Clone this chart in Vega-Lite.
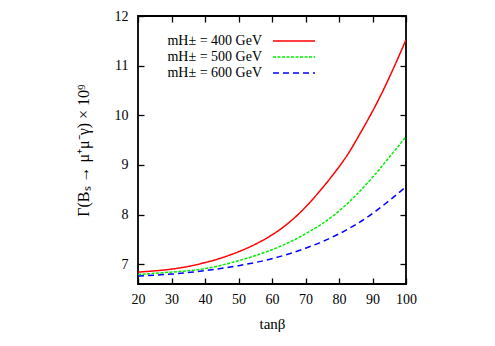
{
  "$schema": "https://vega.github.io/schema/vega-lite/v6.json",
  "width": 268,
  "height": 268,
  "autosize": "none",
  "padding": {"left": 138, "top": 16, "right": 89, "bottom": 62},
  "background": "white",
  "config": {
    "view": {"stroke": "black", "strokeWidth": 1.8},
    "font": "Liberation Serif",
    "axis": {"domain": false, "grid": false, "tickColor": "black", "tickWidth": 1.3, "labelColor": "black", "titleColor": "black", "labelFont": "Liberation Serif", "titleFont": "Liberation Serif", "labelFontSize": 14, "titleFontSize": 14, "titleFontWeight": "normal", "labelFlush": false}
  },
  "data": {"values": [
    {"m": "mH± = 400 GeV", "tanb": 20, "g": 6.84},
    {"m": "mH± = 400 GeV", "tanb": 30, "g": 6.90},
    {"m": "mH± = 400 GeV", "tanb": 40, "g": 7.03},
    {"m": "mH± = 400 GeV", "tanb": 50, "g": 7.25},
    {"m": "mH± = 400 GeV", "tanb": 60, "g": 7.59},
    {"m": "mH± = 400 GeV", "tanb": 70, "g": 8.15},
    {"m": "mH± = 400 GeV", "tanb": 80, "g": 8.96},
    {"m": "mH± = 400 GeV", "tanb": 85, "g": 9.48},
    {"m": "mH± = 400 GeV", "tanb": 90, "g": 10.08},
    {"m": "mH± = 400 GeV", "tanb": 95, "g": 10.76},
    {"m": "mH± = 400 GeV", "tanb": 100, "g": 11.52},
    {"m": "mH± = 500 GeV", "tanb": 20, "g": 6.79},
    {"m": "mH± = 500 GeV", "tanb": 30, "g": 6.84},
    {"m": "mH± = 500 GeV", "tanb": 40, "g": 6.91},
    {"m": "mH± = 500 GeV", "tanb": 50, "g": 7.07},
    {"m": "mH± = 500 GeV", "tanb": 60, "g": 7.29},
    {"m": "mH± = 500 GeV", "tanb": 70, "g": 7.61},
    {"m": "mH± = 500 GeV", "tanb": 80, "g": 8.07},
    {"m": "mH± = 500 GeV", "tanb": 90, "g": 8.75},
    {"m": "mH± = 500 GeV", "tanb": 100, "g": 9.57},
    {"m": "mH± = 600 GeV", "tanb": 20, "g": 6.76},
    {"m": "mH± = 600 GeV", "tanb": 30, "g": 6.80},
    {"m": "mH± = 600 GeV", "tanb": 40, "g": 6.87},
    {"m": "mH± = 600 GeV", "tanb": 50, "g": 6.97},
    {"m": "mH± = 600 GeV", "tanb": 60, "g": 7.11},
    {"m": "mH± = 600 GeV", "tanb": 70, "g": 7.32},
    {"m": "mH± = 600 GeV", "tanb": 80, "g": 7.61},
    {"m": "mH± = 600 GeV", "tanb": 90, "g": 8.02},
    {"m": "mH± = 600 GeV", "tanb": 100, "g": 8.56}
  ]},
  "layer": [
    {
      "mark": {"type": "line", "strokeWidth": 1.5, "interpolate": "natural", "clip": true},
      "encoding": {
        "x": {"field": "tanb", "type": "quantitative", "scale": {"domain": [20, 100], "nice": false, "zero": false},
              "axis": {"orient": "bottom", "title": "tanβ", "titleFontSize": 15, "values": [20, 30, 40, 50, 60, 70, 80, 90, 100], "tickSize": -6, "labelPadding": 14, "titlePadding": 10}},
        "y": {"field": "g", "type": "quantitative", "scale": {"domain": [6.6, 12], "nice": false, "zero": false},
              "axis": {"orient": "left", "title": "Γ(Bₛ → μ⁺μ⁻γ) × 10⁹", "titleFontSize": 16, "values": [7, 8, 9, 10, 11, 12], "tickSize": -6, "labelPadding": 16, "titlePadding": 23}},
        "color": {"field": "m", "type": "nominal",
                  "scale": {"domain": ["mH± = 400 GeV", "mH± = 500 GeV", "mH± = 600 GeV"], "range": ["#ff0000", "#00ee00", "#0000ff"]},
                  "legend": {"orient": "none", "legendX": 148, "legendY": 17, "title": null, "symbolType": "M-3,0H3", "symbolSize": 196, "symbolStrokeWidth": 1.5, "symbolFillColor": "transparent", "labelAlign": "right", "labelOffset": -40, "labelFontSize": 14, "labelFont": "Liberation Serif", "labelColor": "black", "padding": 0, "rowPadding": 1, "labelLimit": 300}},
        "strokeDash": {"field": "m", "type": "nominal",
                  "scale": {"domain": ["mH± = 400 GeV", "mH± = 500 GeV", "mH± = 600 GeV"], "range": [[1, 0], [3, 1.5], [6, 4]]},
                  "legend": {"orient": "none", "legendX": 148, "legendY": 17, "title": null, "symbolType": "M-3,0H3", "symbolSize": 196, "symbolStrokeWidth": 1.5, "symbolFillColor": "transparent", "labelAlign": "right", "labelOffset": -40, "labelFontSize": 14, "labelFont": "Liberation Serif", "labelColor": "black", "padding": 0, "rowPadding": 1, "labelLimit": 300}}
      }
    },
    {
      "mark": {"type": "line", "opacity": 0},
      "encoding": {
        "x": {"field": "tanb", "type": "quantitative", "axis": {"orient": "top", "title": null, "labels": false, "values": [20, 30, 40, 50, 60, 70, 80, 90, 100], "tickSize": -6}},
        "y": {"field": "g", "type": "quantitative", "axis": {"orient": "right", "title": null, "labels": false, "values": [7, 8, 9, 10, 11, 12], "tickSize": -6}}
      }
    }
  ],
  "resolve": {"axis": {"x": "independent", "y": "independent"}}
}
